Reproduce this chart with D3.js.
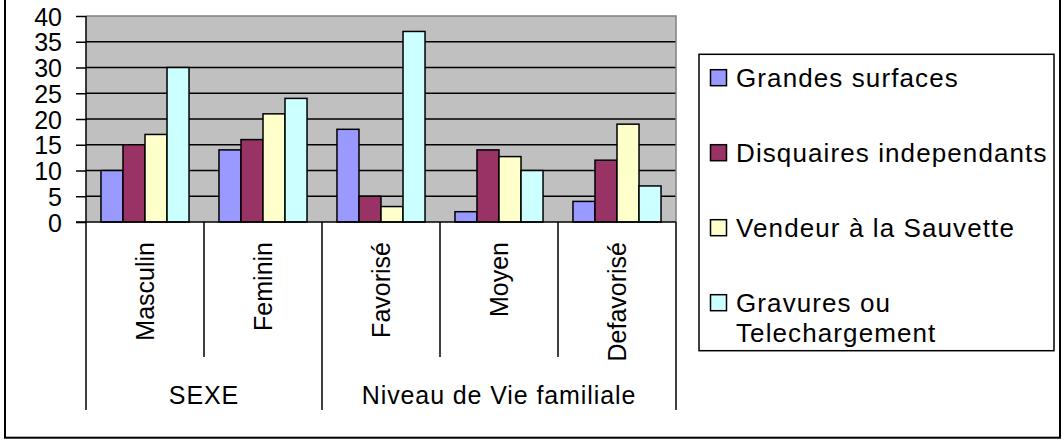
<!DOCTYPE html>
<html><head><meta charset="utf-8">
<script src="https://cdn.jsdelivr.net/npm/d3@7"></script>
<style>
html,body{margin:0;padding:0;background:#fff;}
text{font-family:"Liberation Sans",Arial,sans-serif;fill:#000;}
</style></head>
<body><svg id="chart" width="1064" height="444"></svg>
<script>
const categories = ["Masculin","Feminin","Favorisé","Moyen","Defavorisé"];
const groups = [{name:"SEXE", members:["Masculin","Feminin"]},
                {name:"Niveau de Vie familiale", members:["Favorisé","Moyen","Defavorisé"]}];
const series = ["Grandes surfaces","Disquaires independants","Vendeur à la Sauvette","Gravures ou Telechargement"];
const grandesSurfaces = [10,14,18,2,4];
const disquaires = [15,16,5,14,12];
const vendeur = [17,21,3,12.7,19];
const gravures = [30,24,37,10,7];
const yTicks = [0,5,10,15,20,25,30,35,40];
const colors = ["#9999FF","#993366","#FFFFCC","#CCFFFF"];
const values = [grandesSurfaces, disquaires, vendeur, gravures];

const svg = d3.select("#chart");
svg.append("rect").attr("width",1064).attr("height",444).attr("fill","#fff");
// outer border
svg.append("rect").attr("x",5).attr("y",-5).attr("width",1055).attr("height",442.7)
  .attr("fill","none").attr("stroke","#000").attr("stroke-width",2);

const L=86, R=676, T=16, B=222;
const x = d3.scaleBand().domain(categories).range([L,R]).paddingInner(0).paddingOuter(0);
const xs = d3.scaleBand().domain(series).range([0,x.bandwidth()]).paddingInner(0).paddingOuter(0.68);
const y = d3.scaleLinear().domain([0,40]).range([B,T]);

// plot bg
svg.append("rect").attr("x",L).attr("y",T).attr("width",R-L).attr("height",B-T).attr("fill","#C0C0C0");
// gridlines
svg.append("g").selectAll("line").data(yTicks.filter(v=>v>0&&v<40)).join("line")
  .attr("x1",L).attr("x2",R).attr("y1",d=>y(d)).attr("y2",d=>y(d))
  .attr("stroke","#000").attr("stroke-width",1.5);
// top/right border grey
svg.append("path").attr("d",`M${L},${T}H${R}V${B}`).attr("fill","none").attr("stroke","#808080").attr("stroke-width",1.5);

// bars
const rows = [];
categories.forEach((c,i)=>series.forEach((s,j)=>rows.push({c,s,v:values[j][i],j})));
svg.append("g").selectAll("rect").data(rows).join("rect")
  .attr("x",d=>x(d.c)+xs(d.s)).attr("width",xs.bandwidth())
  .attr("y",d=>y(d.v)).attr("height",d=>y(0)-y(d.v))
  .attr("fill",d=>colors[d.j]).attr("stroke","#000").attr("stroke-width",1.5);

// y axis
const ya = svg.append("g").attr("transform",`translate(${L},0)`)
  .call(d3.axisLeft(y).tickValues(yTicks).tickSize(10).tickPadding(14).tickFormat(d3.format("d")));
ya.select(".domain").attr("stroke","#000").attr("stroke-width",1.5).attr("d",`M0,${T}V${B}`);
ya.selectAll(".tick line").attr("stroke","#000").attr("stroke-width",1.5);
ya.selectAll(".tick text").attr("font-size",25).attr("font-family","Liberation Sans, Arial, sans-serif").attr("dy","0.36em").attr("fill","#000");

// category axis
svg.append("line").attr("x1",L-10).attr("x2",R).attr("y1",B).attr("y2",B).attr("stroke","#000").attr("stroke-width",1.5);
const groupEdges = new Set([L,R]);
let acc=0;
groups.forEach(g=>{ acc+=g.members.length; groupEdges.add(x(categories[acc-1])+x.bandwidth()); });
const bounds = categories.map(c=>x(c)).concat([R]);
svg.append("g").selectAll("line").data(bounds).join("line")
  .attr("x1",d=>d).attr("x2",d=>d).attr("y1",B)
  .attr("y2",d=>[...groupEdges].some(e=>Math.abs(e-d)<0.5)?410:357)
  .attr("stroke","#000").attr("stroke-width",1.5);
svg.append("g").selectAll("text").data(categories).join("text")
  .attr("transform",d=>`translate(${x(d)+x.bandwidth()/2+9},242) rotate(-90)`)
  .attr("text-anchor","end").attr("font-size",25).text(d=>d);
groups.forEach(g=>{
  const x0 = x(g.members[0]);
  const x1 = x(g.members[g.members.length-1])+x.bandwidth();
  svg.append("text").attr("x",(x0+x1)/2).attr("y",403.5).attr("text-anchor","middle")
    .attr("font-size",25).attr("letter-spacing",0.9).text(g.name);
});

// legend
svg.append("rect").attr("x",699).attr("y",54.3).attr("width",355).attr("height",296.4)
  .attr("fill","#fff").attr("stroke","#000").attr("stroke-width",1.5);
const baselines = [86.7,161.7,236.7,311.7];
const lg = svg.append("g").selectAll("g").data(series).join("g")
  .attr("transform",(d,i)=>`translate(0,${baselines[i]})`);
lg.append("rect").attr("x",710.5).attr("y",-17).attr("width",16).attr("height",16)
  .attr("fill",(d,i)=>colors[i]).attr("stroke","#000").attr("stroke-width",1.5);
lg.append("text").attr("x",736).attr("font-size",26).attr("letter-spacing",1.1)
  .each(function(d){
    const t=d3.select(this);
    const parts = d==="Gravures ou Telechargement" ? ["Gravures ou","Telechargement"] : [d];
    parts.forEach((p,k)=>t.append("tspan").attr("x",736).attr("dy",k?30:0).text(p));
  });
</script></body></html>
